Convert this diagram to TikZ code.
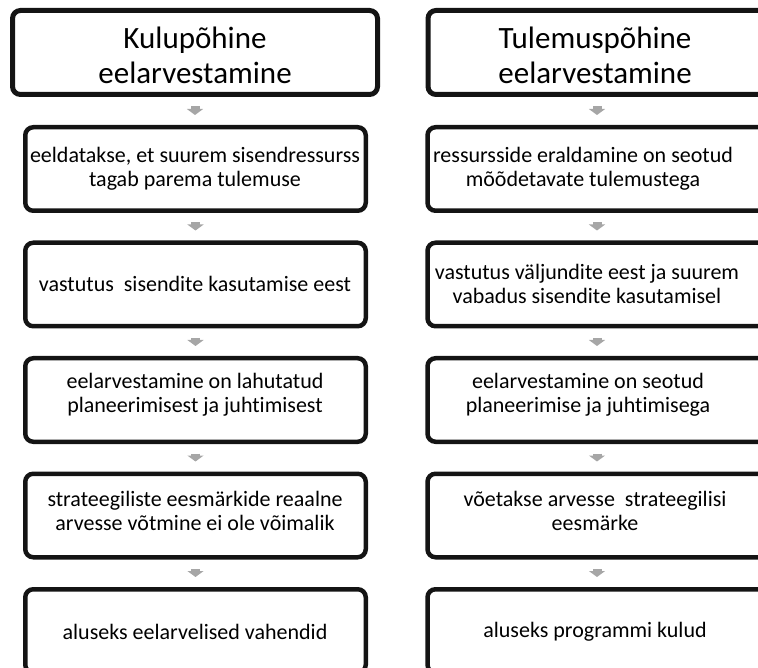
\documentclass[tikz,border=0pt]{standalone}
\usepackage{fontspec}
\setmainfont{Carlito}[Ligatures=NoCommon]
\usetikzlibrary{arrows.meta}
\begin{document}
\begin{tikzpicture}[x=1pt,y=-1pt,
  box/.style={draw=black!92, line width=4.5pt, rounded corners=8pt,
    minimum width=340.5pt, minimum height=83.5pt, inner sep=0pt},
  titlebox/.style={box, line width=5pt, minimum width=365pt, minimum height=84pt},
  body/.style={font=\fontsize{22}{24}\selectfont, align=center, inner sep=0pt},
  headline/.style={font=\fontsize{31}{35}\selectfont, align=center, inner sep=0pt},
  flow/.style={draw={rgb,255:red,166;green,166;blue,166}, line width=9pt,
    -{Triangle[width=16pt,length=6pt]}, shorten <=9.5pt, shorten >=10pt}]
\useasboundingbox (0,0) rectangle (758,668);
\clip (0,0) rectangle (758,668);

% cost-based column
\node[titlebox] (l1) at (195,52.5) {};
\node[box] (l2) at (195.5,169) {};
\node[box] (l3) at (195.5,284.5) {};
\node[box] (l4) at (195.5,400) {};
\node[box] (l5) at (195.5,515.5) {};
\node[box] (l6) at (195.5,631) {};

\node[headline] at (195,55.5) {Kulupõhine\\eelarvestamine};
\node[body] at (195,169) {eeldatakse, et suurem sisendressurss\\tagab parema tulemuse};
\node[body] at (195,284) {vastutus~ sisendite kasutamise eest};
\node[body] at (195,395) {eelarvestamine on lahutatud\\planeerimisest ja juhtimisest};
\node[body] at (195,511) {strateegiliste eesmärkide reaalne\\arvesse võtmine ei ole võimalik};
\node[body] at (195,632) {aluseks eelarvelised vahendid};

% result-based column
\node[titlebox, anchor=west] (r1) at (425.5,52.5) {};
\node[box, anchor=west] (r2) at (425.25,169) {};
\node[box, anchor=west] (r3) at (425.25,284.5) {};
\node[box, anchor=west] (r4) at (425.25,400) {};
\node[box, anchor=west] (r5) at (425.25,515.5) {};
\node[box, anchor=west] (r6) at (425.25,631) {};

\node[headline] at (595,55.5) {Tulemuspõhine\\eelarvestamine};
\node[body] at (583,169) {ressursside eraldamine on seotud\\mõõdetavate tulemustega};
\node[body] at (587,284) {vastutus väljundite eest ja suurem\\vabadus sisendite kasutamisel};
\node[body] at (588,395) {eelarvestamine on seotud\\planeerimise ja juhtimisega};
\node[body] at (595,511) {võetakse arvesse~ strateegilisi\\eesmärke};
\node[body] at (595,632) {aluseks programmi kulud};

% connecting arrows
\foreach \a/\b in {l1/l2,l2/l3,l3/l4,l4/l5,l5/l6}
  \draw[flow] (\a.south) -- (\a.south |- \b.north);
\foreach \a/\b in {r1/r2,r2/r3,r3/r4,r4/r5,r5/r6}
  \draw[flow] (597,0 |- \a.south) -- (597,0 |- \b.north);
\end{tikzpicture}
\end{document}
